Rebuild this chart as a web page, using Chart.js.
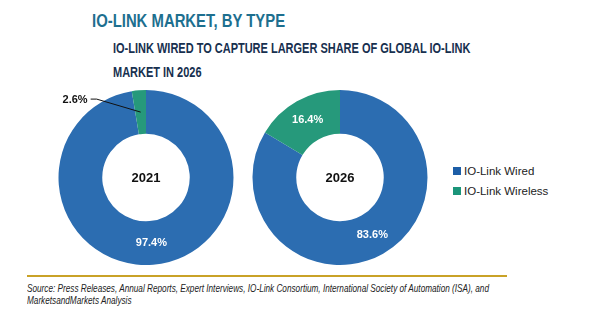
<!DOCTYPE html>
<html>
<head>
<meta charset="utf-8">
<script src="https://cdn.jsdelivr.net/npm/chart.js@4.4.1/dist/chart.umd.min.js"></script>
<style>
  body { margin: 0; width: 600px; height: 325px; background: #fff; position: relative; overflow: hidden; font-family: "Liberation Sans", Arial, sans-serif; }
  .abs { position: absolute; white-space: nowrap; transform-origin: left top; }
  #title { left: 92px; top: 11px; font-size: 17.5px; font-weight: bold; color: #1d6f8f; transform: scaleX(0.85); }
  .sub { left: 113px; font-size: 14px; font-weight: bold; color: #17304f; transform: scaleX(0.785); }
  #legend { left: 453px; top: 161px; font-size: 11.5px; color: #222; }
  .leg { height: 20px; display: flex; align-items: center; }
  .leg span.box { width: 8px; height: 8px; margin-right: 3px; display: inline-block; }
  #rule { left: 27px; top: 275px; width: 480px; height: 2px; background: #c9a227; }
  .src { left: 27px; font-size: 10px; font-style: italic; color: #222; transform: scaleX(0.82); }
  canvas { position: absolute; }
</style>
</head>
<body>
<div id="title" class="abs">IO-LINK MARKET, BY TYPE</div>
<div class="abs sub" style="top:40px">IO-LINK WIRED TO CAPTURE LARGER SHARE OF GLOBAL IO-LINK</div>
<div class="abs sub" style="top:64px">MARKET IN 2026</div>
<canvas id="chart2021"></canvas>
<canvas id="chart2026"></canvas>
<div id="legend" class="abs"></div>
<div id="rule" class="abs"></div>
<div class="abs src" style="top:283px">Source: Press Releases, Annual Reports, Expert Interviews, IO-Link Consortium, International Society of Automation (ISA), and</div>
<div class="abs src" style="top:295px">MarketsandMarkets Analysis</div>
<script>
// data
const types = ['IO-Link Wired', 'IO-Link Wireless'];
const years = ['2021', '2026'];
const share2021 = [97.4, 2.6];
const share2026 = [83.6, 16.4];
const sliceColors = ['#2c6db1', '#26997b'];
const legendColors = ['#1d5ea7', '#1b957a'];

// labels on the slices, small ones get a leader line
const sliceLabels = {
  id: 'sliceLabels',
  afterDatasetsDraw(chart) {
    const ctx = chart.ctx;
    const meta = chart.getDatasetMeta(0);
    const values = chart.data.datasets[0].data;
    ctx.save();
    ctx.font = 'bold 11px "Liberation Sans", Arial, sans-serif';
    meta.data.forEach((arc, i) => {
      const p = arc.tooltipPosition();
      const txt = values[i].toFixed(1) + '%';
      if (values[i] < 5) {
        const ex = p.x - 50, ey = p.y - 13;
        ctx.strokeStyle = '#111';
        ctx.lineWidth = 1;
        ctx.beginPath();
        ctx.moveTo(p.x, p.y);
        ctx.lineTo(ex + 6, ey);
        ctx.lineTo(ex, ey);
        ctx.stroke();
        ctx.fillStyle = '#111';
        ctx.textAlign = 'right';
        ctx.textBaseline = 'middle';
        ctx.fillText(txt, ex - 3, ey + 1);
      } else {
        ctx.fillStyle = '#fff';
        ctx.textAlign = 'center';
        ctx.textBaseline = 'middle';
        ctx.fillText(txt, p.x, p.y);
      }
    });
    // year in the hole
    const c = meta.data[0];
    ctx.fillStyle = '#111';
    ctx.font = 'bold 13px "Liberation Sans", Arial, sans-serif';
    ctx.textAlign = 'center';
    ctx.textBaseline = 'middle';
    ctx.fillText(chart.options.plugins.sliceLabels.year, c.x, c.y + 1);
    ctx.restore();
  }
};

function makeDonut(id, left, top, w, h, pad, values, year) {
  const canvas = document.getElementById(id);
  canvas.style.left = left + 'px';
  canvas.style.top = top + 'px';
  canvas.width = w;
  canvas.height = h;
  canvas.style.width = w + 'px';
  canvas.style.height = h + 'px';
  return new Chart(canvas.getContext('2d'), {
    type: 'doughnut',
    data: {
      labels: types,
      datasets: [{
        data: values,
        backgroundColor: sliceColors,
        borderWidth: 0
      }]
    },
    options: {
      responsive: false,
      animation: false,
      cutout: '50%',
      layout: { padding: pad },
      plugins: {
        legend: { display: false },
        tooltip: { enabled: false },
        sliceLabels: { year: year }
      }
    },
    plugins: [sliceLabels]
  });
}

makeDonut('chart2021', 20, 80, 240, 190, { left: 38, right: 26, top: 10, bottom: 5 }, share2021, years[0]);
makeDonut('chart2026', 240, 80, 200, 190, { left: 12, right: 12, top: 10, bottom: 5 }, share2026, years[1]);

// legend
const legend = document.getElementById('legend');
types.forEach((t, i) => {
  const row = document.createElement('div');
  row.className = 'leg';
  row.innerHTML = '<span class="box" style="background:' + legendColors[i] + '"></span>' + t;
  legend.appendChild(row);
});
</script>
</body>
</html>
